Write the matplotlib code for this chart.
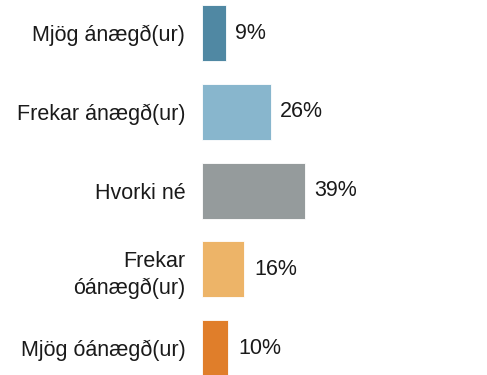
import matplotlib.pyplot as plt

categories = [
    "Mjög ánægð(ur)",
    "Frekar ánægð(ur)",
    "Hvorki né",
    "Frekar\nóánægð(ur)",
    "Mjög óánægð(ur)",
]
shares = [9, 26, 39, 16, 10]
colors = ["#5088a3", "#88b6cd", "#959b9c", "#edb468", "#e07e2a"]

plt.rcParams["font.family"] = ["Liberation Sans", "DejaVu Sans"]

fig = plt.figure(figsize=(4.87, 3.75), dpi=100)
ax = fig.add_axes([202 / 487, 0, 285 / 487, 1])

pos = list(range(len(categories)))
ax.barh(pos, shares, height=0.71, color=colors, edgecolor="white", linewidth=0.6)

for y, v in zip(pos, shares):
    ax.annotate(f"{v}%", (v, y), xytext=(7, 0), textcoords="offset points",
                va="center", ha="left", fontsize=15.5, color="#1a1a1a")

ax.set_xlim(0, 108)
ax.set_ylim(4.34, -0.42)
ax.set_yticks(pos)
ax.set_yticklabels(categories, fontsize=15.5, color="#1a1a1a")
for label in ax.get_yticklabels():
    label.set_linespacing(1.35)
ax.tick_params(axis="y", length=0, pad=12)
ax.set_xticks([])
for side in ax.spines.values():
    side.set_visible(False)

fig.savefig("out.png", dpi=100)
